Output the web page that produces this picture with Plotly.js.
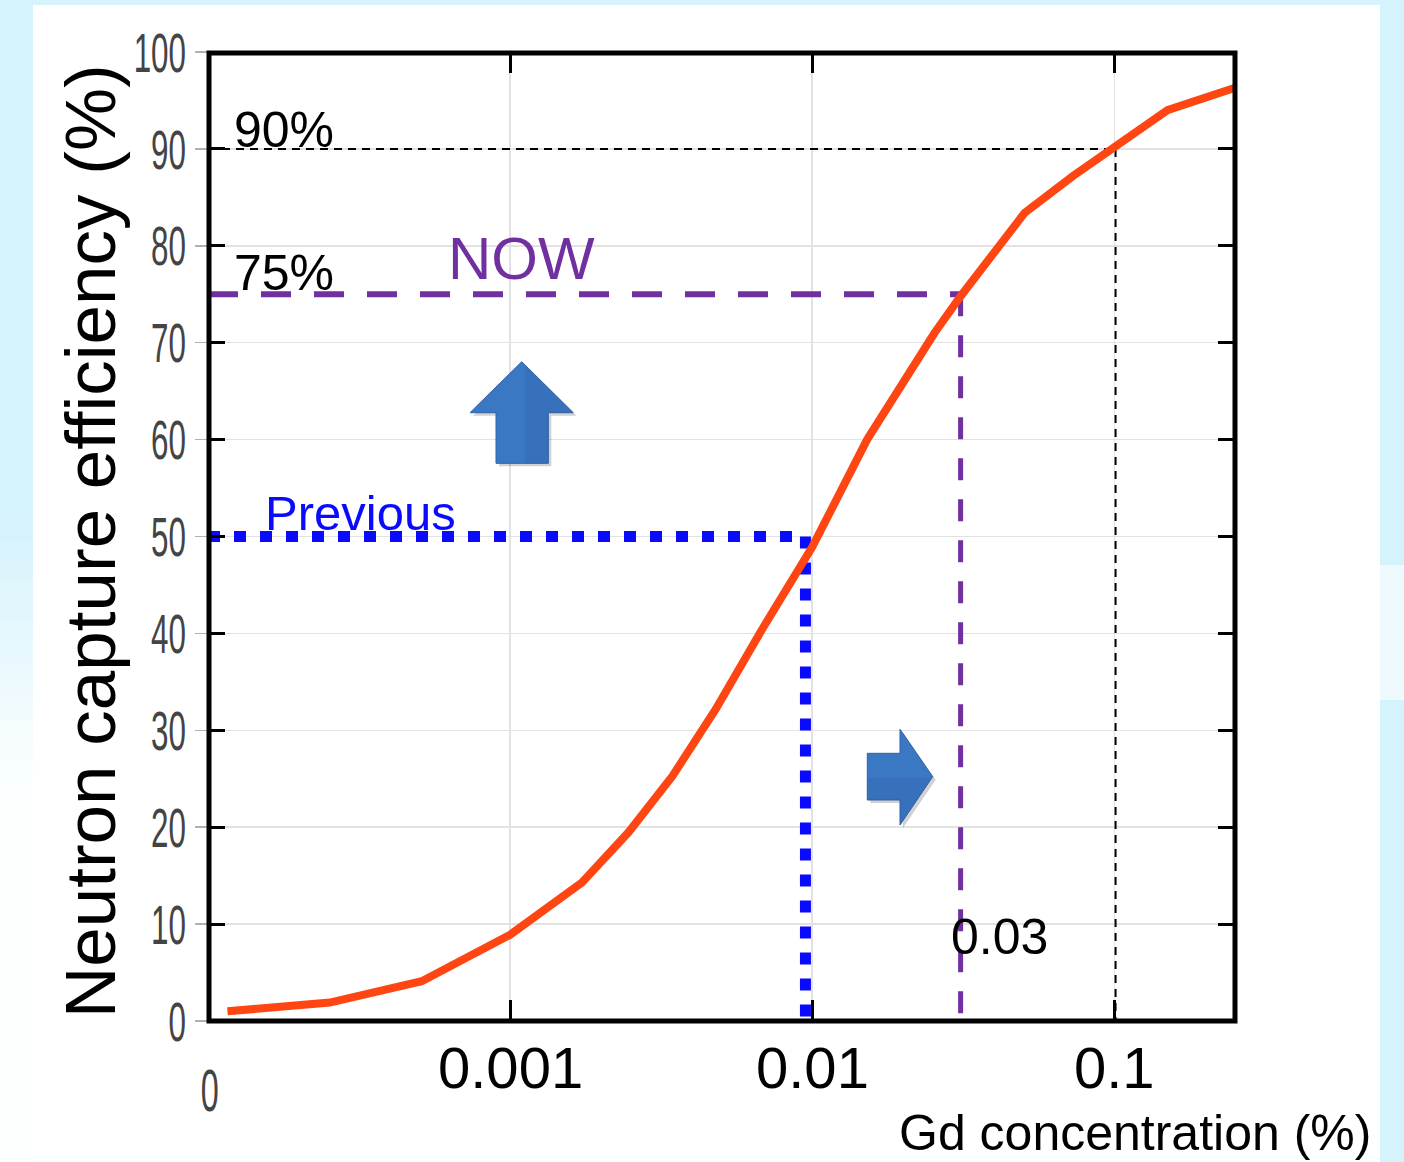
<!DOCTYPE html>
<html>
<head>
<meta charset="utf-8">
<script src="https://cdn.plot.ly/plotly-3.0.1.min.js"></script>
<style>html,body{margin:0;padding:0;background:#d4f3fc;}#chart{width:1404px;height:1162px;}</style>
</head>
<body>
<div id="chart"></div>
<script>
// Curve data: Gd concentration (%) vs neutron capture efficiency (%)
const gdConcentration = [1.16e-4, 2.53e-4, 5.1e-4, 1.0e-3, 1.73e-3, 2.47e-3, 3.45e-3, 4.8e-3, 6.76e-3, 1.0e-2, 1.52e-2, 2.54e-2, 3.1e-2, 5.05e-2, 7.3e-2, 0.1, 0.15, 0.251];
const captureEfficiency = [1.0, 1.9, 4.1, 8.9, 14.3, 19.5, 25.3, 32.2, 40.2, 48.9, 60.0, 71.0, 74.8, 83.4, 87.2, 90.2, 94.0, 96.3];

// Reference levels
const xMin = 1e-4;
const xMax = 0.251;
const levelNames = ["90%", "NOW", "Previous"];
const levelEff = [90, 75, 50];
const levelConc = [0.101, 0.031, 0.0095];

const xTickVals = [0.001, 0.01, 0.1];
const xTickText = ["0.001", "0.01", "0.1"];
const yTickVals = [0, 10, 20, 30, 40, 50, 60, 70, 80, 90, 100];

// pixel -> paper helpers (plot area 208..1235 x, 52..1021 y)
const L = 208, R = 1235, T = 52, B = 1021;
const px = v => (v - L) / (R - L);
const py = v => (B - v) / (B - T);
function path(pts) {
  return 'M' + pts.map(p => px(p[0]).toFixed(5) + ',' + py(p[1]).toFixed(5)).join(' L') + ' Z';
}
function shift(pts, d) { return pts.map(p => [p[0] + d, p[1] + d]); }

const upArrow = [[521.7,361.7],[573.3,412.7],[548.3,412.7],[548.3,463.3],[496,463.3],[496,412.7],[470,412.7]];
const upArrowShade = [[521.7,361.7],[573.3,412.7],[548.3,412.7],[548.3,463.3],[525,463.3],[525,364.5]];
const rightArrow = [[867.3,753.3],[900,753.3],[900,729.3],[932.7,776.7],[900,825],[900,800],[867.3,800]];
const rightArrowShade = [[867.3,778],[931.8,778],[900,825],[900,800],[867.3,800]];

const levelStyles = [
  {color: '#000000', width: 2, dash: '8px,6px', vdash: '8px,6px', vwidth: 2},
  {color: '#7030a0', width: 6, dash: '30px,23px', vdash: '22px,19px', vwidth: 5},
  {color: '#0a0aff', width: 11, dash: '12px,14px', vdash: '12px,14px', vwidth: 11}
];

const traces = [];
levelEff.forEach((e, i) => {
  const s = levelStyles[i];
  traces.push({x: [xMin, levelConc[i]], y: [e, e], mode: 'lines', name: levelNames[i] + ' h',
    line: {color: s.color, width: s.width, dash: s.dash}, hoverinfo: 'skip'});
  traces.push({x: [levelConc[i], levelConc[i]], y: [e, 0], mode: 'lines', name: levelNames[i] + ' v',
    line: {color: s.color, width: s.vwidth, dash: s.vdash}, hoverinfo: 'skip'});
});
traces.push({x: gdConcentration, y: captureEfficiency, mode: 'lines', name: 'efficiency',
  line: {color: '#ff4511', width: 8}});
// invisible trace to anchor the secondary (outside-tick) y axis
traces.push({x: [xMin], y: [0], yaxis: 'y2', mode: 'markers', marker: {opacity: 0}, hoverinfo: 'skip', showlegend: false});

const shapes = [];
// soft fade of the sky background on the left strip
const fadeSteps = 14;
for (let k = 0; k < fadeSteps; k++) {
  const y0 = 520 + k * 20, y1 = y0 + 20;
  shapes.push({type: 'rect', xref: 'paper', yref: 'paper', x0: px(0), x1: px(33), y0: py(y1), y1: py(y0),
    fillcolor: 'rgba(255,255,255,' + ((k + 1) / (fadeSteps + 1)).toFixed(3) + ')', line: {width: 0}, layer: 'below'});
}
shapes.push(
  {type: 'rect', xref: 'paper', yref: 'paper', x0: px(0), x1: px(33), y0: py(1162), y1: py(800),
   fillcolor: 'rgba(255,255,255,0.95)', line: {width: 0}, layer: 'below'},
  {type: 'rect', xref: 'paper', yref: 'paper', x0: px(1380), x1: px(1404), y0: py(700), y1: py(565),
   fillcolor: 'rgba(255,255,255,0.6)', line: {width: 0}, layer: 'below'},
  {type: 'rect', xref: 'paper', yref: 'paper', x0: px(33), x1: px(1380), y0: py(1162), y1: py(5),
   fillcolor: '#ffffff', line: {width: 0}, layer: 'below'},
  // frame
  {type: 'rect', xref: 'paper', yref: 'paper', x0: px(209), x1: px(1235), y0: py(1021), y1: py(53),
   fillcolor: 'rgba(0,0,0,0)', line: {color: '#000', width: 5}, layer: 'above'},
  // arrows
  {type: 'path', xref: 'paper', yref: 'paper', path: path(shift(upArrow, 3)),
   fillcolor: 'rgba(0,0,0,0.18)', line: {width: 0}, layer: 'above'},
  {type: 'path', xref: 'paper', yref: 'paper', path: path(upArrow),
   fillcolor: '#3b78c4', line: {color: '#2e62a6', width: 1}, layer: 'above'},
  {type: 'path', xref: 'paper', yref: 'paper', path: path(upArrowShade),
   fillcolor: 'rgba(20,40,90,0.08)', line: {width: 0}, layer: 'above'},
  {type: 'path', xref: 'paper', yref: 'paper', path: path(shift(rightArrow, 3)),
   fillcolor: 'rgba(0,0,0,0.18)', line: {width: 0}, layer: 'above'},
  {type: 'path', xref: 'paper', yref: 'paper', path: path(rightArrow),
   fillcolor: '#3b78c4', line: {color: '#2e62a6', width: 1}, layer: 'above'},
  {type: 'path', xref: 'paper', yref: 'paper', path: path(rightArrowShade),
   fillcolor: 'rgba(20,40,90,0.08)', line: {width: 0}, layer: 'above'}
);

const sans = 'Liberation Sans, Arial, sans-serif';

const annotations = [
  {text: '90%', x: px(232), y: py(130), xanchor: 'left', font: {size: 50, color: '#000'}},
  {text: '75%', x: px(232), y: py(273), xanchor: 'left', font: {size: 50, color: '#000'}},
  {text: 'NOW', x: px(521), y: py(258), xanchor: 'center', font: {size: 60, color: '#7030a0'}},
  {text: 'Previous', x: px(360), y: py(513), xanchor: 'center', font: {size: 49, color: '#0a0aff'}},
  {text: '0.03', x: px(999), y: py(937), xanchor: 'center', font: {size: 50, color: '#000'}},
  {text: '0', x: px(209), y: py(1090), xanchor: 'center', font: {size: 60, color: '#444'}},
  {text: 'Gd concentration (%)', x: px(1135), y: py(1133), xanchor: 'center', font: {size: 50, color: '#000'}},
  {text: 'Neutron capture efficiency (%)', x: px(90), y: py(541), textangle: -90, xanchor: 'center', font: {size: 71, color: '#000'}}
];
xTickVals.forEach((v, i) => annotations.push({text: xTickText[i], x: Math.log10(v), xref: 'x',
  y: py(1067), xanchor: 'center', font: {size: 58, color: '#000'}}));

const finalAnnotations = annotations.map(a => Object.assign({xref: 'paper', yref: 'paper', showarrow: false, yanchor: 'middle'}, a,
  {font: Object.assign({family: sans}, a.font)}));

const layout = {
  width: 1404, height: 1162,
  margin: {l: L, r: 1404 - R, t: T, b: 1162 - B, pad: 0},
  paper_bgcolor: '#d4f3fc', plot_bgcolor: '#ffffff',
  showlegend: false,
  font: {family: sans, color: '#000'},
  xaxis: {type: 'log', range: [Math.log10(xMin), Math.log10(xMax)],
    tickvals: xTickVals, ticktext: xTickText, ticks: 'inside', ticklen: 21, tickwidth: 3, tickcolor: '#000',
    showline: false, mirror: 'ticks',
    showgrid: true, gridcolor: '#e2e2e2', gridwidth: 1.5, zeroline: false, showticklabels: false},
  yaxis: {range: [0, 100], tickvals: yTickVals, ticks: 'inside', ticklen: 17, tickwidth: 3, tickcolor: '#000',
    showline: false, mirror: 'ticks',
    showgrid: true, gridcolor: '#e2e2e2', gridwidth: 1.5, zeroline: false,
    tickfont: {size: 56, color: '#444', family: sans}, ticklabelstandoff: 21},
  yaxis2: {range: [0, 100], overlaying: 'y', side: 'left', tickvals: yTickVals, ticks: 'outside', ticklen: 12,
    tickwidth: 1.5, tickcolor: '#b0b0b0', showticklabels: false, showgrid: false, showline: false, zeroline: false},
  shapes: shapes,
  annotations: finalAnnotations
};

Plotly.newPlot('chart', traces, layout, {displayModeBar: false, staticPlot: true}).then(() => {
  // condense the narrow-style tick labels (reference uses a condensed face)
  document.querySelectorAll('#chart .ytick text').forEach(t => {
    const bb = t.getBBox();
    const rx = bb.x + bb.width;
    const tr = t.getAttribute('transform') || '';
    t.setAttribute('transform', tr + ' translate(' + rx + ',0) scale(0.56,1) translate(' + (-rx) + ',0)');
  });
  document.querySelectorAll('#chart .annotation-text').forEach(t => {
    if (t.textContent === '0') {
      const bb = t.getBBox();
      const cx = bb.x + bb.width / 2;
      const tr = t.getAttribute('transform') || '';
      t.setAttribute('transform', tr + ' translate(' + cx + ',0) scale(0.54,1) translate(' + (-cx) + ',0)');
    }
  });
});
</script>
</body>
</html>
